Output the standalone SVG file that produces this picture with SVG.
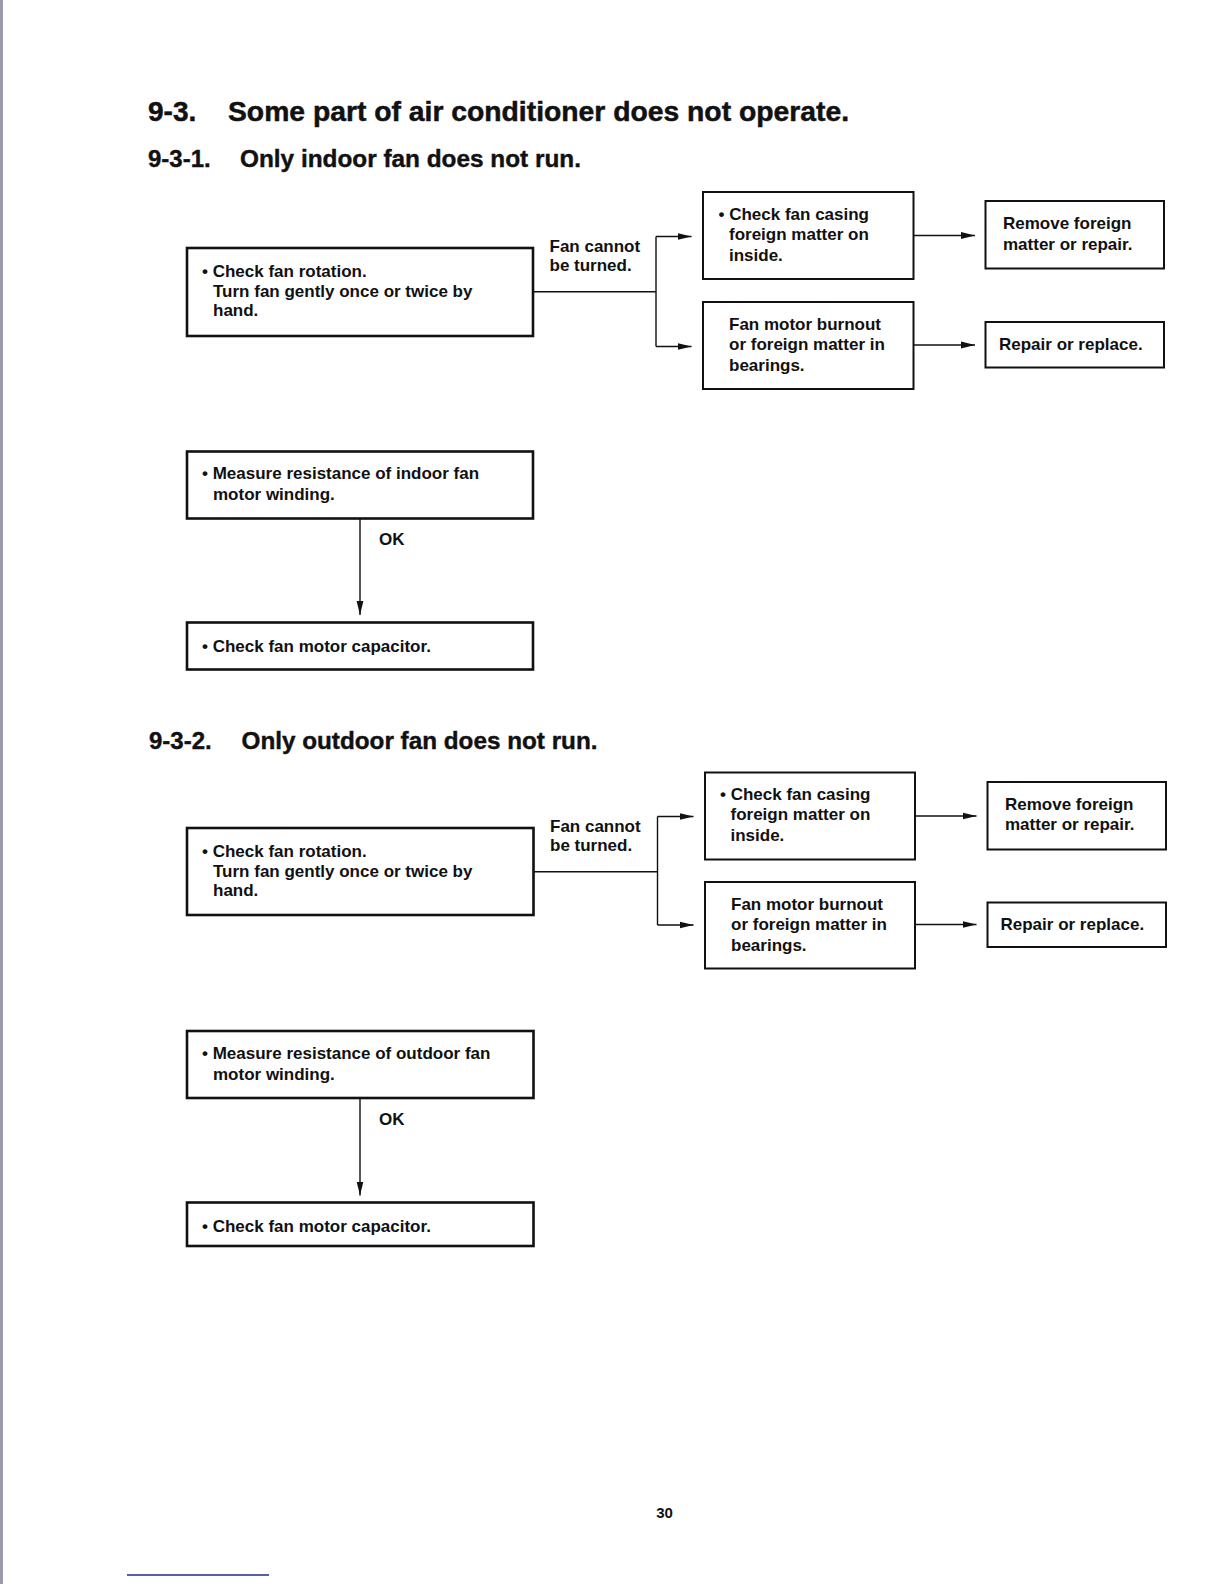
<svg xmlns="http://www.w3.org/2000/svg" width="1224" height="1584" viewBox="0 0 1224 1584">
<style>
  text { font-family: "Liberation Sans", Arial, sans-serif; fill: #111; }
  .t1 { font-size: 28px; font-weight: bold; stroke: #111; stroke-width: 0.5; }
  .t2 { font-size: 24px; font-weight: bold; stroke: #111; stroke-width: 0.4; }
  .b { font-size: 17px; font-weight: bold; }
  .pg { font-size: 15px; font-weight: bold; }
  .box { fill: #fff; stroke: #111; stroke-width: 2; }
  .boxl { fill: #fff; stroke: #111; stroke-width: 2.6; }
  .ln { fill: none; stroke: #111; stroke-width: 1.4; }
  .arr { fill: none; stroke: #111; stroke-width: 1.4; marker-end: url(#ah); }
</style>
<defs>
  <marker id="ah" markerUnits="userSpaceOnUse" markerWidth="15" markerHeight="8" refX="14" refY="4" orient="auto">
    <path d="M0,0.6 L14,4 L0,7.4 Z" fill="#111"/>
  </marker>
</defs>
<rect x="0" y="0" width="1224" height="1584" fill="#fff"/>
<rect x="0" y="0" width="3" height="1584" fill="#9a9aa8"/>
<line x1="127" y1="1575" x2="269" y2="1575" stroke="#1a2a9a" stroke-width="1.5"/>

<g id="titles">
  <text class="t1" x="148" y="121">9-3.</text>
  <text class="t1" x="228" y="121" textLength="621" lengthAdjust="spacingAndGlyphs">Some part of air conditioner does not operate.</text>
  <text class="t2" x="148" y="167">9-3-1.</text>
  <text class="t2" x="240" y="167" textLength="341" lengthAdjust="spacingAndGlyphs">Only indoor fan does not run.</text>
  <text class="t2" x="149" y="748.5">9-3-2.</text>
  <text class="t2" x="241.5" y="748.5" textLength="356" lengthAdjust="spacingAndGlyphs">Only outdoor fan does not run.</text>
</g>

<g id="connectors">
  <!-- section 1 -->
  <polyline class="ln" points="533,291.7 656,291.7"/>
  <polyline class="ln" points="656,236.5 656,346.5"/>
  <polyline class="arr" points="656,236.5 691.5,236.5"/>
  <polyline class="arr" points="656,346.5 691.5,346.5"/>
  <polyline class="arr" points="913.5,235.5 975,235.5"/>
  <polyline class="arr" points="913.5,345 975,345"/>
  <polyline class="arr" points="360,518.5 360,615"/>
  <!-- section 2 -->
  <polyline class="ln" points="533.5,871.7 657.5,871.7"/>
  <polyline class="ln" points="657.5,816.5 657.5,925"/>
  <polyline class="arr" points="657.5,816.5 693.5,816.5"/>
  <polyline class="arr" points="657.5,925 693.5,925"/>
  <polyline class="arr" points="915,816 976.5,816"/>
  <polyline class="arr" points="915,924.5 976.5,924.5"/>
  <polyline class="arr" points="360,1098 360,1195.5"/>
</g>

<g id="labels">
  <text class="b" x="549.5" y="251.5">Fan cannot</text>
  <text class="b" x="549.5" y="271">be turned.</text>
  <text class="b" x="379" y="545">OK</text>
  <text class="b" x="550" y="831.5">Fan cannot</text>
  <text class="b" x="550" y="851">be turned.</text>
  <text class="b" x="379" y="1125">OK</text>
</g>

<g id="n1">
  <rect class="boxl" x="187" y="248" width="346" height="88"/>
  <text class="b" x="202" y="276.7">• Check fan rotation.</text>
  <text class="b" x="213" y="296.7">Turn fan gently once or twice by</text>
  <text class="b" x="213" y="316.3">hand.</text>
</g>
<g id="n2">
  <rect class="box" x="703" y="192" width="210.5" height="87"/>
  <text class="b" x="718.5" y="220">• Check fan casing</text>
  <text class="b" x="729" y="240.3">foreign matter on</text>
  <text class="b" x="729" y="260.6">inside.</text>
</g>
<g id="n3">
  <rect class="box" x="703" y="302" width="210.5" height="87"/>
  <text class="b" x="729" y="330">Fan motor burnout</text>
  <text class="b" x="729" y="350.3">or foreign matter in</text>
  <text class="b" x="729" y="370.6">bearings.</text>
</g>
<g id="n4">
  <rect class="box" x="985.5" y="201" width="178.5" height="67.5"/>
  <text class="b" x="1003" y="229">Remove foreign</text>
  <text class="b" x="1003" y="249.5">matter or repair.</text>
</g>
<g id="n5">
  <rect class="box" x="985.5" y="322" width="178.5" height="45.5"/>
  <text class="b" x="999" y="349.5">Repair or replace.</text>
</g>
<g id="n6">
  <rect class="boxl" x="187" y="451.5" width="346" height="67"/>
  <text class="b" x="202" y="479">• Measure resistance of indoor fan</text>
  <text class="b" x="213" y="500">motor winding.</text>
</g>
<g id="n7">
  <rect class="boxl" x="187" y="622.5" width="346" height="47"/>
  <text class="b" x="202" y="651.5">• Check fan motor capacitor.</text>
</g>

<g id="n8">
  <rect class="boxl" x="187" y="828" width="346.5" height="87"/>
  <text class="b" x="202" y="856.7">• Check fan rotation.</text>
  <text class="b" x="213" y="876.7">Turn fan gently once or twice by</text>
  <text class="b" x="213" y="896.3">hand.</text>
</g>
<g id="n9">
  <rect class="box" x="705" y="772.5" width="210" height="87"/>
  <text class="b" x="720" y="800">• Check fan casing</text>
  <text class="b" x="730.5" y="820.3">foreign matter on</text>
  <text class="b" x="730.5" y="840.6">inside.</text>
</g>
<g id="n10">
  <rect class="box" x="705" y="882" width="210" height="86.5"/>
  <text class="b" x="731" y="910">Fan motor burnout</text>
  <text class="b" x="731" y="930.3">or foreign matter in</text>
  <text class="b" x="731" y="950.6">bearings.</text>
</g>
<g id="n11">
  <rect class="box" x="987.5" y="782" width="178.5" height="67.5"/>
  <text class="b" x="1005" y="809.5">Remove foreign</text>
  <text class="b" x="1005" y="829.5">matter or repair.</text>
</g>
<g id="n12">
  <rect class="box" x="987.5" y="902.5" width="178.5" height="44.5"/>
  <text class="b" x="1000.5" y="929.5">Repair or replace.</text>
</g>
<g id="n13">
  <rect class="boxl" x="187" y="1031" width="346.5" height="67"/>
  <text class="b" x="202" y="1059">• Measure resistance of outdoor fan</text>
  <text class="b" x="213" y="1080">motor winding.</text>
</g>
<g id="n14">
  <rect class="boxl" x="187" y="1202.5" width="346.5" height="43.5"/>
  <text class="b" x="202" y="1231.5">• Check fan motor capacitor.</text>
</g>

<text class="pg" x="664.5" y="1518" text-anchor="middle">30</text>
</svg>
